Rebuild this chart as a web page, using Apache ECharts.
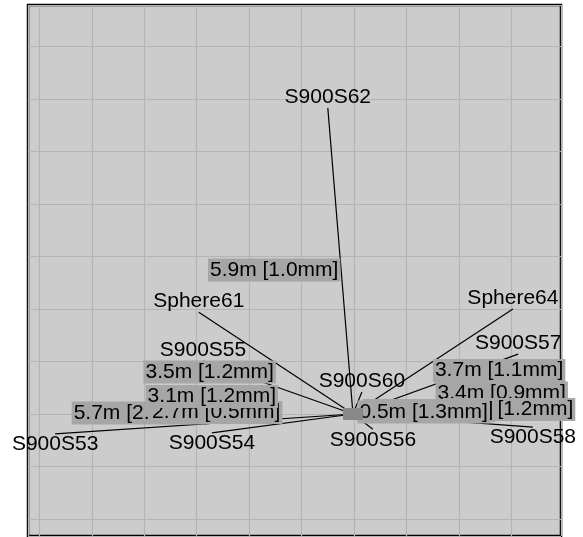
<!DOCTYPE html>
<html>
<head>
<meta charset="utf-8">
<script src="https://cdn.jsdelivr.net/npm/echarts@6/dist/echarts.min.js"></script>
<style>
html,body{margin:0;padding:0;background:#fff;}
#c{width:583px;height:537px;}
</style>
</head>
<body>
<div id="c"></div>
<script>
// Station network (metres). Centre station at origin.
const CENTER = [-0.02, 0.0];
const NAMES = ['S900S62','Sphere61','S900S53','S900S54','S900S55','Sphere64','S900S57','S900S58','S900S56','S900S60'];
const X_M = [-0.50, -2.96, -5.70, -2.71, -2.88, 3.03, 3.13, 3.41, 0.36, 0.15];
const Y_M = [5.83, 1.94, -0.38, -0.36, 1.01, 2.00, 1.14, -0.25, -0.29, 0.42];
const DIST_LABELS = ['5.9m [1.0mm]','3.5m [1.2mm]','5.7m [2.1mm]','2.7m [0.5mm]','3.1m [1.2mm]','3.7m [1.1mm]','3.4m [0.9mm]','3.4m [1.2mm]','0.5m [1.1mm]','0.5m [1.3mm]'];
const X_RANGE = [-6.217, 3.947];
const Y_RANGE = [-2.324, 7.79];

const FONT = '21px "Liberation Sans", Arial, sans-serif';

const chart = echarts.init(document.getElementById('c'));
const data = X_M.map((x, i) => [x, Y_M[i]]);

function renderItem(params, api) {
  const i = params.dataIndex;
  const c = api.coord(CENTER);
  const t = api.coord([api.value(0), api.value(1)]);
  const mx = (c[0] + t[0]) / 2;
  const my = (c[1] + t[1]) / 2;
  const left = t[0] < c[0];
  const up = t[1] < c[1];
  return {
    type: 'group',
    children: [
      {
        type: 'line',
        shape: {x1: c[0], y1: c[1], x2: t[0], y2: t[1]},
        style: {stroke: '#000', lineWidth: 1.2},
        z2: 1
      },
      {
        type: 'text',
        x: mx,
        y: up ? my - 2.5 : my + 0.5,
        style: {
          text: DIST_LABELS[i],
          font: FONT,
          fill: '#000',
          align: left ? 'right' : 'left',
          verticalAlign: up ? 'top' : 'bottom',
          backgroundColor: '#a6a6a6',
          padding: [1, 2, 1, 2],
          lineHeight: 21
        },
        z2: 10 + i
      },
      {
        type: 'text',
        x: t[0],
        y: t[1],
        style: {
          text: NAMES[i],
          font: FONT,
          fill: '#000',
          align: 'center',
          verticalAlign: up ? 'bottom' : 'top',
          lineHeight: 21
        },
        z2: 100
      }
    ]
  };
}

chart.setOption({
  animation: false,
  grid: {
    left: 28, right: 22, top: 5, bottom: 1,
    show: true,
    backgroundColor: '#cccccc',
    borderColor: '#000',
    borderWidth: 2.5
  },
  xAxis: {
    type: 'value',
    min: X_RANGE[0], max: X_RANGE[1],
    splitNumber: 10, minInterval: 1, maxInterval: 1,
    axisLine: {show: false}, axisTick: {show: false}, axisLabel: {show: false},
    splitLine: {show: true, lineStyle: {color: '#b4b4b4', width: 1.2}}
  },
  yAxis: {
    type: 'value',
    min: Y_RANGE[0], max: Y_RANGE[1],
    splitNumber: 10, minInterval: 1, maxInterval: 1,
    axisLine: {show: false}, axisTick: {show: false}, axisLabel: {show: false},
    splitLine: {show: true, lineStyle: {color: '#b4b4b4', width: 1.2}}
  },
  series: [
    {
      type: 'custom',
      renderItem: renderItem,
      data: data,
      clip: false,
      z: 2,
      silent: true
    },
    {
      type: 'scatter',
      data: [CENTER],
      symbol: 'rect',
      symbolSize: [20, 12],
      itemStyle: {color: '#888888', opacity: 1},
      z: 5,
      silent: true
    }
  ]
});
</script>
</body>
</html>
